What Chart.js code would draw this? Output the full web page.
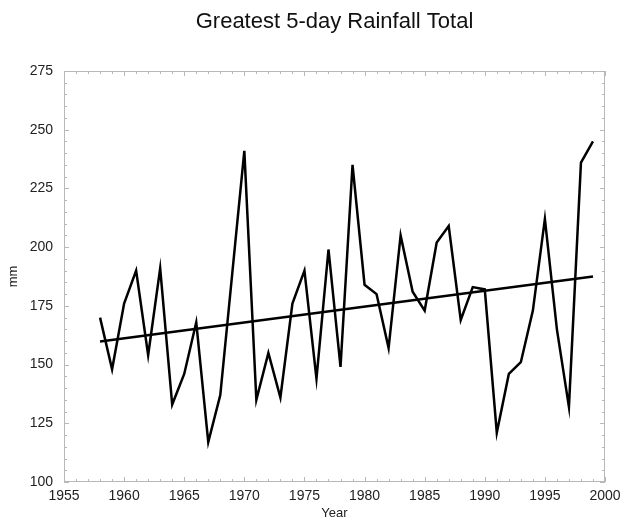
<!DOCTYPE html>
<html>
<head>
<meta charset="utf-8">
<script src="https://cdn.jsdelivr.net/npm/chart.js@4"></script>
<style>
  html, body { margin: 0; padding: 0; background: #fff; }
  #wrap { width: 622px; height: 521px; }
</style>
</head>
<body>
<div id="wrap"><canvas id="chart" width="622" height="521"></canvas></div>
<script>
// Greatest 5-day rainfall
var years = [1958, 1959, 1960, 1961, 1962, 1963, 1964, 1965, 1966, 1967,
             1968, 1969, 1970, 1971, 1972, 1973, 1974, 1975, 1976, 1977,
             1978, 1979, 1980, 1981, 1982, 1983, 1984, 1985, 1986, 1987,
             1988, 1989, 1990, 1991, 1992, 1993, 1994, 1995, 1996, 1997,
             1998, 1999];
var rainfall = [170, 148, 176, 190, 154, 191, 133, 146, 168, 117,
                137, 189, 241, 135, 155, 136, 176, 190, 144, 199,
                149, 235, 184, 180, 157, 205, 181, 173, 202, 209,
                169, 183, 182, 121, 146, 151, 173, 212, 165, 132,
                236, 245];
// linear trend, end points
var trendYears = [1958, 1999];
var trendValues = [159.8, 187.5];

var FONT = "'Liberation Sans', Arial, Helvetica, sans-serif";

// frame + inward ticks on all four sides
var frameTicks = {
  id: 'frameTicks',
  afterDatasetsDraw: function (chart) {
    var ctx = chart.ctx, a = chart.chartArea;
    var xs = chart.scales.x, ys = chart.scales.y;
    ctx.save();
    ctx.strokeStyle = '#b8b8b8';
    ctx.lineWidth = 1;
    ctx.strokeRect(a.left + 0.5, a.top + 0.5, a.right - a.left - 1, a.bottom - a.top - 1);
    ctx.beginPath();
    for (var yr = 1955; yr <= 2000; yr++) {
      var px = Math.round(xs.getPixelForValue(yr)) + 0.5;
      var len = yr % 5 === 0 ? 5 : 3;
      ctx.moveTo(px, a.bottom); ctx.lineTo(px, a.bottom - len);
      ctx.moveTo(px, a.top); ctx.lineTo(px, a.top + len);
    }
    for (var v = 100; v <= 275; v += 5) {
      var py = Math.round(ys.getPixelForValue(v)) + 0.5;
      var l2 = v % 25 === 0 ? 5 : 3;
      ctx.moveTo(a.left, py); ctx.lineTo(a.left + l2, py);
      ctx.moveTo(a.right, py); ctx.lineTo(a.right - l2, py);
    }
    ctx.stroke();
    ctx.restore();
  }
};

new Chart(document.getElementById('chart'), {
  type: 'line',
  data: {
    datasets: [{
      data: years.map(function (y, i) { return { x: y, y: rainfall[i] }; }),
      borderColor: '#000',
      borderWidth: 2.5,
      pointRadius: 0,
      tension: 0
    }, {
      data: trendYears.map(function (y, i) { return { x: y, y: trendValues[i] }; }),
      borderColor: '#000',
      borderWidth: 2.5,
      pointRadius: 0
    }]
  },
  options: {
    responsive: false,
    animation: false,
    layout: { padding: { left: 0, right: 17, top: 0, bottom: 0 } },
    plugins: {
      legend: { display: false },
      tooltip: { enabled: false },
      title: {
        display: true,
        fullSize: false,
        text: 'Greatest 5-day Rainfall Total',
        color: '#111',
        font: { family: FONT, size: 22, weight: 'normal' },
        padding: { top: 9, bottom: 35.6 }
      }
    },
    scales: {
      x: {
        type: 'linear',
        min: 1955,
        max: 2000,
        grid: { display: false, drawTicks: false },
        border: { display: false },
        ticks: {
          stepSize: 5,
          padding: 6,
          color: '#222',
          font: { family: FONT, size: 14 },
          maxRotation: 0,
          callback: function (v) { return String(v); }
        },
        title: {
          display: true,
          text: 'Year',
          color: '#222',
          font: { family: FONT, size: 13 },
          padding: { top: 0, bottom: 0 }
        },
        afterFit: function (s) { s.height = 39; s.paddingLeft = 0; s.paddingRight = 0; }
      },
      y: {
        min: 100,
        max: 275,
        grid: { display: false, drawTicks: false },
        border: { display: false },
        ticks: {
          stepSize: 25,
          padding: 11,
          color: '#222',
          font: { family: FONT, size: 14 }
        },
        title: {
          display: true,
          text: 'mm',
          color: '#222',
          font: { family: FONT, size: 13 },
          padding: { top: 6, bottom: 0 }
        },
        afterFit: function (s) { s.width = 64; s.paddingTop = 0; s.paddingBottom = 0; }
      }
    }
  },
  plugins: [frameTicks]
});
</script>
</body>
</html>
